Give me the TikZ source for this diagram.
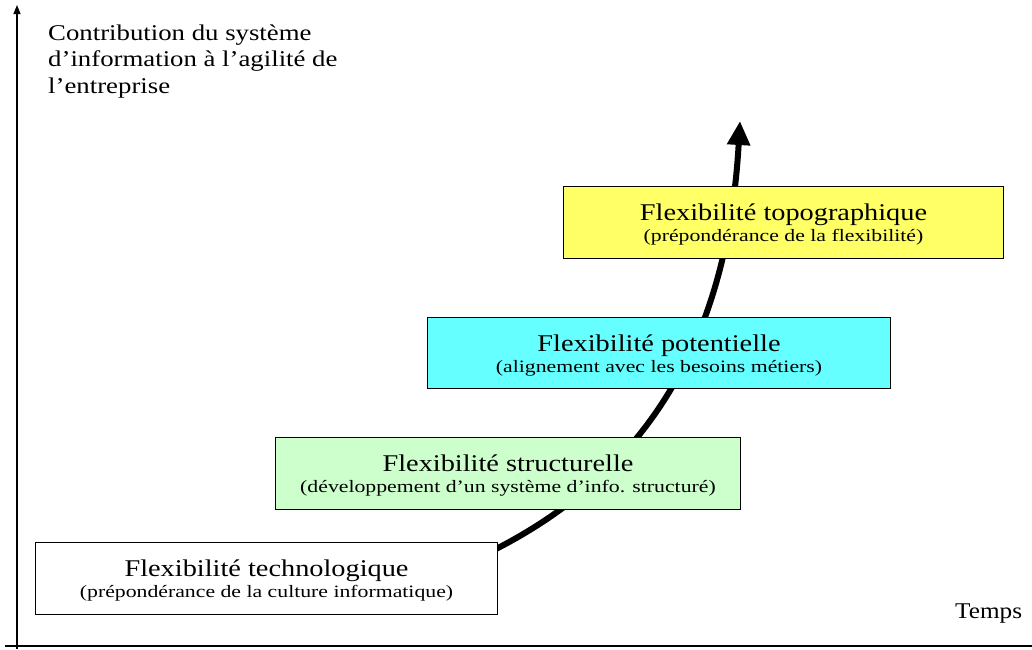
\documentclass[tikz,border=0pt]{standalone}
\usepackage{fontspec}
\setmainfont{Liberation Serif}
\usetikzlibrary{arrows.meta,calc}
\definecolor{boxgreen}{HTML}{CCFFCC}
\definecolor{boxcyan}{HTML}{66FFFF}
\definecolor{boxyellow}{HTML}{FFFF66}
\begin{document}
\begin{tikzpicture}[x=1pt,y=-1pt,
  stage/.style={draw=black,line width=1pt,inner sep=0pt,anchor=north west,minimum height=72pt},
  axis/.style={line width=1.2pt},
  trend/.style={line width=6pt,-{Triangle[length=24pt,width=22pt]}},
  title/.style={anchor=base,inner sep=0pt,transform shape,xscale=1.18,font=\fontsize{24}{28}\selectfont},
  sub/.style={anchor=base,inner sep=0pt,transform shape,xscale=1.25,font=\fontsize{17.4}{20}\selectfont},
  lab/.style={anchor=base west,inner sep=0pt,transform shape,font=\fontsize{22.5}{26}\selectfont},
]
\useasboundingbox (0,0) rectangle (1032,649);
% axes
\coordinate (o1) at (17,649);
\coordinate (yt) at (17,5);
\coordinate (x0) at (5,646);
\coordinate (x1) at (1032,646);
\draw[axis,-{Triangle[length=9pt,width=7pt]}] (o1) -- (yt);
\draw[axis] (x0) -- (x1);
% curve
\coordinate (c0) at (490,552);
\coordinate (c1) at (740,121);
\draw[trend] (c0) .. controls (655,470) and (728,330) .. (c1);
% boxes
\node[stage,fill=white,minimum width=462pt] (b1) at (35,542) {};
\node[title] (t1) at ($(b1.center)+(0,-2)$) {Flexibilité technologique};
\node[sub] (s1) at ($(b1.center)+(0,19)$) {(prépondérance de la culture informatique)};
\node[stage,fill=boxgreen,minimum width=465pt] (b2) at (275,437) {};
\node[title] (t2) at ($(b2.center)+(0,-2)$) {Flexibilité structurelle};
\node[sub] (s2) at ($(b2.center)+(0,19)$) {(développement d’un système d’info. structuré)};
\node[stage,fill=boxcyan,minimum width=463pt,minimum height=71pt] (b3) at (427,317) {};
\node[title] (t3) at ($(b3.center)+(0,-2)$) {Flexibilité potentielle};
\node[sub] (s3) at ($(b3.center)+(0,19)$) {(alignement avec les besoins métiers)};
\node[stage,fill=boxyellow,minimum width=440pt] (b4) at (563,186) {};
\node[title] (t4) at ($(b4.center)+(0,-2)$) {Flexibilité topographique};
\node[sub] (s4) at ($(b4.center)+(0,19)$) {(prépondérance de la flexibilité)};
% labels
\node[lab,xscale=1.19] (y1) at (48,40) {Contribution du système};
\node[lab,xscale=1.19] (y2) at (48,66.5) {d’information à l’agilité de};
\node[lab,xscale=1.19] (y3) at (48,93) {l’entreprise};
\node[lab,xscale=1.12] (xlab) at (955,618) {Temps};
\end{tikzpicture}
\end{document}
